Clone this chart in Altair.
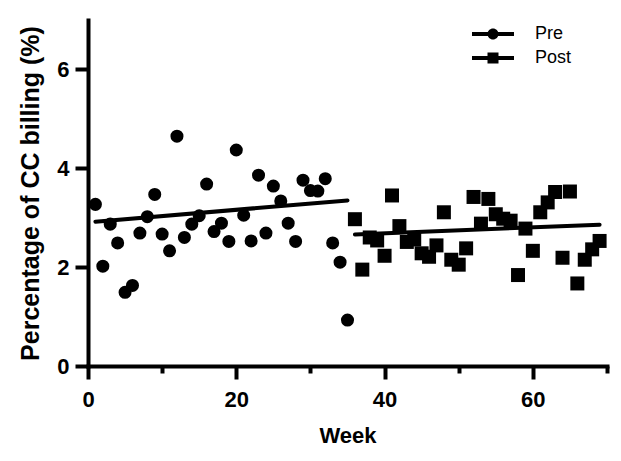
import altair as alt
import pandas as pd

# Weekly share of CC billing (%), before and after the change
weeks_pre = list(range(1, 36))
pct_pre = [3.27, 2.02, 2.87, 2.49, 1.49, 1.63, 2.69, 3.02, 3.47, 2.67,
           2.33, 4.65, 2.60, 2.87, 3.04, 3.68, 2.72, 2.89, 2.52, 4.37,
           3.05, 2.53, 3.86, 2.69, 3.64, 3.34, 2.89, 2.52, 3.76, 3.55,
           3.54, 3.79, 2.49, 2.10, 0.93]
weeks_post = list(range(36, 70))
pct_post = [2.97, 1.95, 2.60, 2.54, 2.23, 3.45, 2.83, 2.51, 2.56, 2.28,
            2.21, 2.44, 3.11, 2.15, 2.05, 2.38, 3.42, 2.88, 3.38, 3.07,
            2.98, 2.94, 1.84, 2.78, 2.33, 3.11, 3.31, 3.52, 2.19, 3.53,
            1.67, 2.15, 2.36, 2.53]

# Fitted linear trend for each period (end points)
trend_weeks_pre = [1, 35]
trend_pct_pre = [2.92, 3.35]
trend_weeks_post = [36, 69]
trend_pct_post = [2.66, 2.86]

series = ["Pre", "Post"]
x_ticks = list(range(0, 71, 5))
y_ticks = [0, 2, 4, 6]

points = pd.DataFrame({
    "week": weeks_pre + weeks_post,
    "pct": pct_pre + pct_post,
    "series": [series[0]] * len(weeks_pre) + [series[1]] * len(weeks_post),
})
trend = pd.DataFrame({
    "week": trend_weeks_pre + trend_weeks_post,
    "pct": trend_pct_pre + trend_pct_post,
    "series": [series[0]] * 2 + [series[1]] * 2,
})

FONT = "Liberation Sans"

x_enc = alt.X(
    "week:Q",
    title="Week",
    scale=alt.Scale(domain=[0, 70], nice=False, zero=False),
    axis=alt.Axis(
        values=x_ticks,
        labelExpr="datum.value % 20 === 0 ? datum.label : ''",
        tickSize={"condition": {"test": "datum.value % 20 === 0", "value": 13}, "value": 7},
        labelOverlap=False,
        labelFlush=False,
        labelPadding=10,
        titlePadding=15,
    ),
)
y_enc = alt.Y(
    "pct:Q",
    title="Percentage of CC billing (%)",
    scale=alt.Scale(domain=[0, 7], nice=False),
    axis=alt.Axis(values=y_ticks, tickSize=13, labelPadding=6, titlePadding=13,
                  titleFontSize=25),
)

# legend glyphs: a bar with the marker on top of it
PRE_GLYPH = "M-4.2,-0.4H4.2V0.4H-4.2Z M-1.1,0A1.1,1.1 0 1,1 1.1,0A1.1,1.1 0 1,1 -1.1,0Z"
POST_GLYPH = "M-4.2,-0.4H4.2V0.4H-4.2Z M-1.1,-1.1H1.1V1.1H-1.1Z"

dots = alt.Chart(points).mark_point(filled=True, color="black", opacity=1).encode(
    x=x_enc,
    y=y_enc,
    shape=alt.Shape("series:N", scale=alt.Scale(domain=series, range=["circle", "square"]), legend=None),
    size=alt.Size("series:N", scale=alt.Scale(domain=series, range=[170, 196]), legend=None),
)

lines = alt.Chart(trend).mark_line(color="black", strokeWidth=4, strokeCap="round").encode(
    x="week:Q",
    y="pct:Q",
    detail="series:N",
)

key = alt.Chart(points).mark_point(filled=True, color="black", opacity=0).encode(
    x="week:Q",
    y="pct:Q",
    shape=alt.Shape(
        "series:N",
        scale=alt.Scale(domain=series, range=[PRE_GLYPH, POST_GLYPH]),
        legend=alt.Legend(
            title=None,
            orient="none",
            legendX=383,
            legendY=5,
            symbolSize=100,
            symbolOffset=13,
            labelOffset=33,
            labelFontSize=18,
            labelFont=FONT,
            labelColor="black",
            symbolFillColor="black",
            symbolStrokeWidth=0,
            rowPadding=6,
            padding=0,
        ),
    ),
)

chart = (
    alt.layer(dots, lines, key)
    .resolve_scale(shape="independent", size="independent")
    .resolve_legend(shape="independent")
    .properties(
        width=519,
        height=346,
        padding={"left": 88, "top": 20, "right": 14, "bottom": 95},
        autosize=alt.AutoSizeParams(type="none"),
        background="white",
    )
    .configure_view(stroke=None)
    .configure_axis(
        domainColor="black",
        domainWidth=4,
        domainCap="square",
        tickColor="black",
        tickWidth=4,
        grid=False,
        labelFont=FONT,
        labelFontSize=22,
        labelFontWeight="bold",
        labelColor="black",
        titleFont=FONT,
        titleFontSize=22,
        titleFontWeight="bold",
        titleColor="black",
    )
)

chart.save("out.html", embed_options={"renderer": "svg", "actions": False})
